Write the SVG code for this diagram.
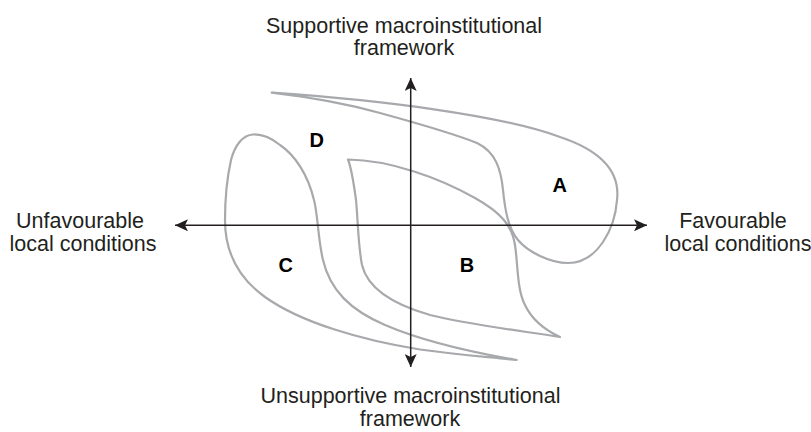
<svg xmlns="http://www.w3.org/2000/svg" width="811" height="432" viewBox="0 0 811 432">
<style>
.ax{stroke:#231f20;stroke-width:1.5;fill:none}
.cv{stroke:#a7a9ac;stroke-width:2.2;fill:none;stroke-linejoin:round}
.lbl{font-family:"Liberation Sans",Arial,sans-serif;font-size:21.5px;fill:#231f20;text-anchor:middle}
.q{font-family:"Liberation Sans",Arial,sans-serif;font-size:20px;font-weight:bold;fill:#000;text-anchor:middle}
</style>
<defs>
<marker id="ah" markerUnits="userSpaceOnUse" markerWidth="14" markerHeight="12" refX="13" refY="6" orient="auto-start-reverse">
<path d="M0,0 L13,6 L0,12 L3,6 Z" fill="#231f20"/>
</marker>
</defs>
<rect width="811" height="432" fill="#fff"/>
<g id="curves">
<path id="curve-A" class="cv" d="M271.7,92.7 C380,100 500,115 560,137 C605,152 620,175 617,200 C615,228 598,263 568,263 C550,263 528,252 518,240 C508,228 505,210 503,190 C501,170 496,152 477,143 C455,134 420,124 380,113 C340,102 300,96 271.7,92.7 Z"/>
<path id="curve-B" class="cv" d="M348,159.5 C390,160 440,178 475,198 C500,212 512,225 515,245 C518,265 517,290 525,305 C532,320 545,330 560,337 C530,332 470,325 430,315 C395,305 368,290 362,265 C358,245 358,220 356,200 C354,185 352,170 348,159.5 Z"/>
<path id="curve-C" class="cv" d="M516.7,360 C470,352 420,340 385,325 C350,310 330,290 323,260 C318,240 318,215 314,200 C308,175 295,155 280,145 C270,137 262,134 253,134.5 C243,135 235,145 231,160 C227,178 225,200 225,220 C225,250 237,277 265,297 C300,322 360,340 420,349.5 C460,355 490,357 516.7,360 Z"/>
</g>
<g id="connectors">
<line class="ax" x1="175" y1="225.3" x2="647" y2="225.3" marker-start="url(#ah)" marker-end="url(#ah)"/>
<line class="ax" x1="410.7" y1="78" x2="410.7" y2="367" marker-start="url(#ah)" marker-end="url(#ah)"/>
</g>
<g id="top-label"><text class="lbl" x="404" y="32.5">Supportive macroinstitutional</text><text class="lbl" x="404" y="55">framework</text></g>
<g id="bottom-label"><text class="lbl" x="410.5" y="403">Unsupportive macroinstitutional</text><text class="lbl" x="410" y="425.5">framework</text></g>
<g id="left-label"><text class="lbl" x="80" y="228">Unfavourable</text><text class="lbl" x="83" y="251">local conditions</text></g>
<g id="right-label"><text class="lbl" x="733" y="228">Favourable</text><text class="lbl" x="738" y="251">local conditions</text></g>
<g id="region-A"><text class="q" x="559.7" y="192">A</text></g>
<g id="region-B"><text class="q" x="467" y="272">B</text></g>
<g id="region-C"><text class="q" x="285.8" y="272">C</text></g>
<g id="region-D"><text class="q" x="316.7" y="147">D</text></g>
</svg>
